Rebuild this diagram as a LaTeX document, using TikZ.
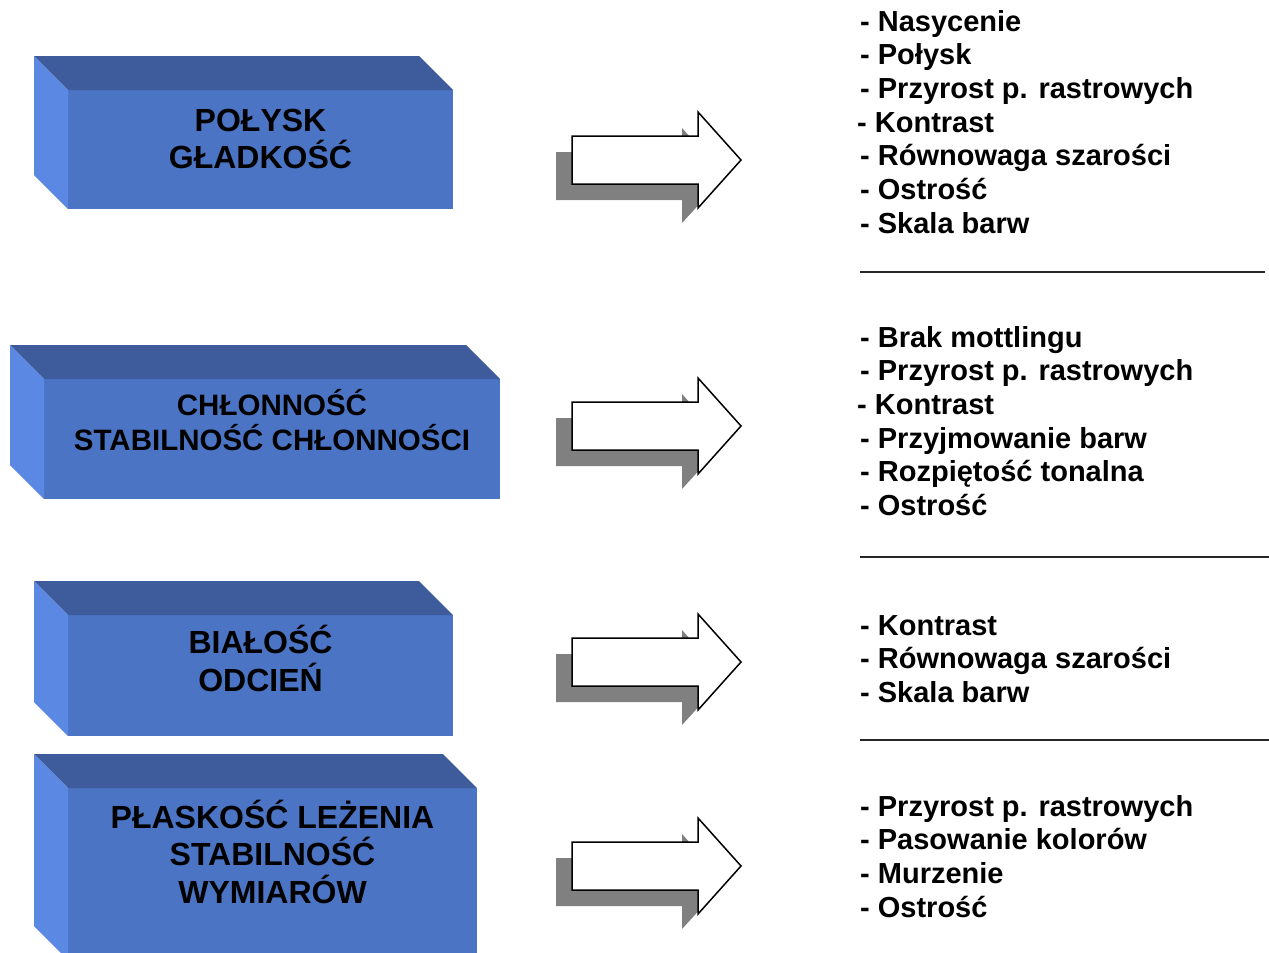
\documentclass[tikz,border=0pt]{standalone}
\usepackage{fontspec}
\setmainfont{Liberation Sans}
\definecolor{boxfront}{RGB}{75,116,197}
\definecolor{boxtop}{RGB}{62,92,155}
\definecolor{boxleft}{RGB}{91,136,226}
\definecolor{shadowgray}{RGB}{128,128,128}
\tikzset{
  boxlabel/.style={inner sep=0pt, anchor=base, font=\fontsize{32}{37}\selectfont\bfseries},
  boxlabelsmall/.style={boxlabel, font=\fontsize{29.5}{35}\selectfont\bfseries},
  listitem/.style={inner sep=0pt, anchor=base west, font=\fontsize{29}{34}\selectfont\bfseries},
  sepline/.style={line width=1.6pt, black!85},
  arrowbody/.style={fill=white, draw=black, line width=1.5pt, line join=miter},
  arrowshadow/.style={fill=shadowgray, draw=none}
}
% cube: #1 left x, #2 top y, #3 right x, #4 bottom y (depth 34)
\newcommand\cubeblock[4]{%
  \fill[boxfront] (#1+34,#2+34) rectangle (#3,#4);
  \fill[boxtop] (#1,#2) -- (#3-34,#2) -- (#3,#2+34) -- (#1+34,#2+34) -- cycle;
  \fill[boxleft] (#1,#2) -- (#1+34,#2+34) -- (#1+34,#4) -- (#1,#4-34) -- cycle;
}
% block arrow with shadow; #1 = tip y
\newcommand\blockarrow[1]{%
  \fill[arrowshadow] (556,#1-8) -- (682,#1-8) -- (682,#1-32) -- (725,#1+16)
     -- (682,#1+63) -- (682,#1+40) -- (556,#1+40) -- cycle;
  \filldraw[arrowbody] (572,#1-24) -- (698,#1-24) -- (698,#1-48) -- (741,#1)
     -- (698,#1+48) -- (698,#1+24) -- (572,#1+24) -- cycle;
}
\begin{document}
\begin{tikzpicture}[x=1pt,y=-1pt]
\useasboundingbox (0,0) rectangle (1269,953);
\clip (0,0) rectangle (1269,953);

% boxes
\cubeblock{34}{56}{453}{209}
\cubeblock{10}{345}{500}{499}
\cubeblock{34}{581}{453}{736}
\cubeblock{34}{754}{477}{960}

\node[boxlabel] (b1a) at (260.5,131) {POŁYSK};
\node[boxlabel] (b1b) at (260.5,168) {GŁADKOŚĆ};
\node[boxlabelsmall] (b2a) at (272,415) {CHŁONNOŚĆ};
\node[boxlabelsmall] (b2b) at (272,450) {STABILNOŚĆ CHŁONNOŚCI};
\node[boxlabel] (b3a) at (260.5,653) {BIAŁOŚĆ};
\node[boxlabel] (b3b) at (260.5,691) {ODCIEŃ};
\node[boxlabel] (b4a) at (272.5,828) {PŁASKOŚĆ LEŻENIA};
\node[boxlabel] (b4b) at (272.5,865) {STABILNOŚĆ};
\node[boxlabel] (b4c) at (272.5,903) {WYMIARÓW};

% arrows
\blockarrow{160}
\blockarrow{426}
\blockarrow{662}
\blockarrow{866}

% list 1
\node[listitem] (l1a) at (860,31) {- Nasycenie};
\node[listitem] (l1b) at (860,64.7) {- Połysk};
\node[listitem] (l1c) at (860,98.4) {- Przyrost p. rastrowych};
\node[listitem] (l1d) at (857,132.1) {- Kontrast};
\node[listitem] (l1e) at (860,165.8) {- Równowaga szarości};
\node[listitem] (l1f) at (860,199.5) {- Ostrość};
\node[listitem] (l1g) at (860,233.2) {- Skala barw};
\draw[sepline] (860,272) -- (1265,272);

% list 2
\node[listitem] (l2a) at (860,347) {- Brak mottlingu};
\node[listitem] (l2b) at (860,380.7) {- Przyrost p. rastrowych};
\node[listitem] (l2c) at (857,414.4) {- Kontrast};
\node[listitem] (l2d) at (860,448.1) {- Przyjmowanie barw};
\node[listitem] (l2e) at (860,481.8) {- Rozpiętość tonalna};
\node[listitem] (l2f) at (860,515.5) {- Ostrość};
\draw[sepline] (860,557) -- (1269,557);

% list 3
\node[listitem] (l3a) at (860,635) {- Kontrast};
\node[listitem] (l3b) at (860,668.7) {- Równowaga szarości};
\node[listitem] (l3c) at (860,702.4) {- Skala barw};
\draw[sepline] (860,740) -- (1269,740);

% list 4
\node[listitem] (l4a) at (860,816) {- Przyrost p. rastrowych};
\node[listitem] (l4b) at (860,849.7) {- Pasowanie kolorów};
\node[listitem] (l4c) at (860,883.4) {- Murzenie};
\node[listitem] (l4d) at (860,917.1) {- Ostrość};
\end{tikzpicture}
\end{document}
